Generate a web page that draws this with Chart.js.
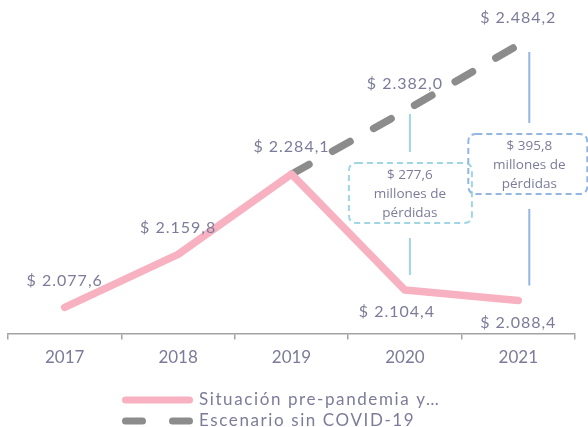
<!DOCTYPE html>
<html>
<head>
<meta charset="utf-8">
<script src="https://cdn.jsdelivr.net/npm/chart.js@4.4.1/dist/chart.umd.min.js"></script>
<style>
  html, body { margin: 0; padding: 0; background: #fff; overflow: hidden; }
  #wrap { width: 588px; height: 427px; overflow: hidden; }
</style>
</head>
<body>
<div id="wrap"><canvas id="lossChart" width="588" height="440"></canvas></div>
<script>
// datos (millones)
const years = ['2017', '2018', '2019', '2020', '2021'];
const prePandemia = [2077.6, 2159.8, 2284.1, 2104.4, 2088.4];
const sinCovid = [null, null, 2284.1, 2382.0, 2484.2];
const perdidas = [null, null, null, 277.6, 395.8];
const legendNames = ['Situación pre-pandemia y…', 'Escenario sin COVID-19'];

const textColor = '#7c7c9a';
const pink = '#f8b1c0';
const grey = '#8c8c8c';
const lossColors = [null, null, null, '#9fd6e4', '#93b6e3'];

function fmt(v) {
    const parts = v.toFixed(1).split('.');
    const ent = parts[0].replace(/\B(?=(\d{3})+(?!\d))/g, '.');
    return '$ ' + ent + ',' + parts[1];
}

function roundRect(ctx, x, y, w, h, r) {
    ctx.beginPath();
    ctx.moveTo(x + r, y);
    ctx.lineTo(x + w - r, y);
    ctx.quadraticCurveTo(x + w, y, x + w, y + r);
    ctx.lineTo(x + w, y + h - r);
    ctx.quadraticCurveTo(x + w, y + h, x + w - r, y + h);
    ctx.lineTo(x + r, y + h);
    ctx.quadraticCurveTo(x, y + h, x, y + h - r);
    ctx.lineTo(x, y + r);
    ctx.quadraticCurveTo(x, y, x + r, y);
    ctx.closePath();
}

const extras = {
    id: 'extras',
    afterDatasetsDraw(chart) {
        const ctx = chart.ctx;
        const xs = chart.scales.x;
        const ys = chart.scales.y;
        ctx.save();

        // etiquetas de valores
        ctx.font = '16px Lato';
        ctx.letterSpacing = '1px';
        ctx.fillStyle = textColor;
        ctx.textAlign = 'center';
        ctx.textBaseline = 'middle';
        prePandemia.forEach((v, i) => {
            const x = xs.getPixelForValue(i);
            const y = ys.getPixelForValue(v);
            if (i <= 2) ctx.fillText(fmt(v), x, y - 27);
            else ctx.fillText(fmt(v), x - (i === 3 ? 8 : 0), y + 22);
        });
        sinCovid.forEach((v, i) => {
            if (v === null || i <= 2) return;
            const x = xs.getPixelForValue(i);
            const y = ys.getPixelForValue(v);
            ctx.fillText(fmt(v), x, y - 27);
        });
        ctx.letterSpacing = '0px';

        // pérdidas: línea vertical + cuadro
        perdidas.forEach((p, i) => {
            if (p === null) return;
            const shift = i === 3 ? 5 : 11;
            const x = xs.getPixelForValue(i) + shift;
            const yTop = ys.getPixelForValue(sinCovid[i]) + (i === 3 ? 3 : 7);
            const yBot = ys.getPixelForValue(prePandemia[i]) - 15;
            const boxH = 60;
            const boxW = i === 3 ? 123 : 119;
            const boxTop = i === 3 ? 163 : 134;
            ctx.strokeStyle = lossColors[i];
            ctx.lineWidth = 2;
            ctx.setLineDash([]);
            ctx.beginPath();
            ctx.moveTo(x, yTop);
            ctx.lineTo(x, boxTop - 11);
            ctx.moveTo(x, boxTop + boxH + 15);
            ctx.lineTo(x, yBot);
            ctx.stroke();

            ctx.setLineDash([6, 4]);
            roundRect(ctx, x - 61, boxTop, boxW, boxH, 8);
            ctx.stroke();
            ctx.setLineDash([]);

            ctx.font = '13.5px "Open Sans"';
            ctx.fillStyle = textColor;
            const cy = boxTop + 12;
            ctx.fillText('$ ' + p.toFixed(1).replace('.', ','), x, cy);
            ctx.fillText('millones de', x, cy + 19);
            ctx.fillText('pérdidas', x, cy + 38);
        });

        // leyenda
        ctx.lineCap = 'round';
        ctx.lineWidth = 7;
        ctx.strokeStyle = pink;
        ctx.beginPath();
        ctx.moveTo(125.5, 400);
        ctx.lineTo(189.5, 400);
        ctx.stroke();
        ctx.strokeStyle = grey;
        ctx.setLineDash([17, 30]);
        ctx.beginPath();
        ctx.moveTo(125.5, 421);
        ctx.lineTo(189.5, 421);
        ctx.stroke();
        ctx.setLineDash([]);
        ctx.font = '17px Lato';
        ctx.letterSpacing = '1.6px';
        ctx.fillStyle = textColor;
        ctx.textAlign = 'left';
        ctx.fillText(legendNames[0], 199, 400);
        ctx.fillText(legendNames[1], 199, 421);
        ctx.restore();
    }
};

const ctx = document.getElementById('lossChart').getContext('2d');
const lossChart = new Chart(ctx, {
    type: 'line',
    data: {
        labels: years,
        datasets: [{
            label: legendNames[0],
            data: prePandemia,
            borderColor: pink,
            borderWidth: 7.5,
            borderCapStyle: 'round',
            borderJoinStyle: 'round',
            pointRadius: 0,
            tension: 0,
            fill: false,
            clip: false
        }, {
            label: legendNames[1],
            data: sinCovid,
            borderColor: grey,
            borderWidth: 7.5,
            borderDash: [20, 27],
            borderCapStyle: 'round',
            pointRadius: 0,
            tension: 0,
            fill: false,
            clip: false
        }]
    },
    options: {
        responsive: false,
        animation: false,
        layout: {
            padding: { left: 8, right: 13, top: 0, bottom: 64 }
        },
        plugins: {
            legend: { display: false },
            tooltip: { enabled: false }
        },
        scales: {
            x: {
                offset: true,
                grid: {
                    offset: true,
                    drawOnChartArea: false,
                    drawTicks: true,
                    tickLength: 6,
                    color: '#a3a3a3',
                    lineWidth: 1.5
                },
                border: { display: true, color: '#a3a3a3', width: 1.5 },
                ticks: {
                    color: textColor,
                    font: { family: 'Lato', size: 17 },
                    padding: 8
                }
            },
            y: {
                display: false,
                min: 2037,
                max: 2554
            }
        }
    },
    plugins: [extras]
});
</script>
</body>
</html>
